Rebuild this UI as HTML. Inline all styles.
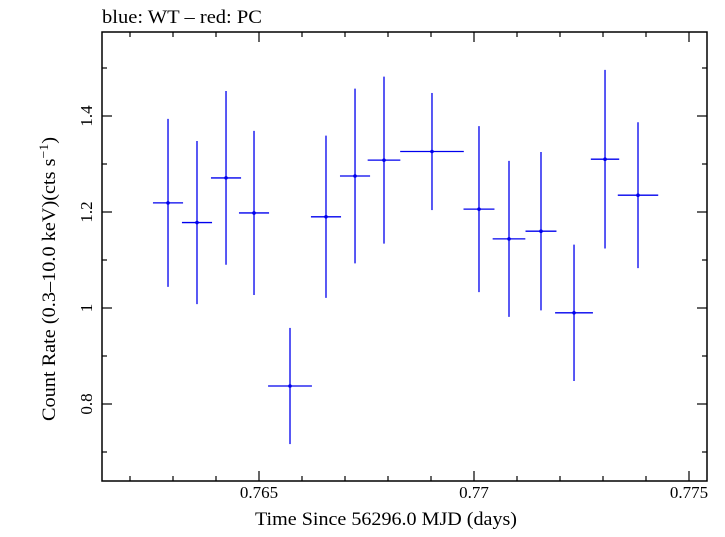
<!DOCTYPE html>
<html><head><meta charset="utf-8"><style>
body{margin:0;background:#fff}
svg text{font-family:"Liberation Serif",serif;fill:#000}
</style></head><body>
<svg id="chart" width="725" height="532" xmlns="http://www.w3.org/2000/svg">
<text x="102" y="23" font-size="19" textLength="160" lengthAdjust="spacingAndGlyphs">blue: WT – red: PC</text>
<rect x="102" y="32" width="605" height="449" fill="none" stroke="#000" stroke-width="1.5"/>
<g id="ticks"></g>
<g id="marks"></g>
<text x="386" y="525" font-size="19" text-anchor="middle" textLength="262" lengthAdjust="spacingAndGlyphs">Time Since 56296.0 MJD (days)</text>
<text transform="translate(55,279) rotate(-90)" font-size="19" text-anchor="middle" textLength="284" lengthAdjust="spacingAndGlyphs">Count Rate (0.3–10.0 keV)(cts s<tspan dy="-7" font-size="13">−1</tspan><tspan dy="7">)</tspan></text>
</svg>
<script>
const times=[0.762884,0.763558,0.764233,0.764884,0.765721,0.766558,0.767233,0.767907,0.769023,0.770116,0.770814,0.771558,0.772326,0.773047,0.773814];
const timeErr=[0.00035,0.00035,0.00035,0.00035,0.00051,0.00035,0.00035,0.00038,0.00074,0.00036,0.00038,0.00036,0.00044,0.00033,0.00047];
const rates=[1.219,1.178,1.271,1.198,0.8375,1.190,1.275,1.308,1.326,1.206,1.144,1.160,0.990,1.310,1.235];
const rateErr=[0.175,0.170,0.181,0.171,0.121,0.169,0.182,0.174,0.122,0.173,0.1625,0.165,0.142,0.186,0.152];
const xTickLabels=["0.765","0.77","0.775"];
const yTickLabels=["0.8","1","1.2","1.4"];
const NS="http://www.w3.org/2000/svg";
const L=102,R=707,T=32,B=481;
const X=v=>259+(v-0.765)*43000;
const Y=v=>308-(v-1)*480;
function el(t,a,p){const e=document.createElementNS(NS,t);for(const k in a)e.setAttribute(k,a[k]);p.appendChild(e);return e;}
const tg=document.getElementById('ticks'),mg=document.getElementById('marks');
for(let i=-6;i<=12;i++){const v=0.765+i*0.001;const x=X(v);if(x<=L+1||x>=R-1)continue;const maj=((i%5)+5)%5===0;const len=maj?10:5;
 const a=el('line',{x1:x,x2:x,y1:B,y2:B-len,stroke:'#000','stroke-width':1.2},tg);
 
 const b=el('line',{x1:x,x2:x,y1:T,y2:T+len,stroke:'#000','stroke-width':1.2},tg);
 }
xTickLabels.forEach(s=>{const t=el('text',{x:X(parseFloat(s)),y:498,'font-size':17,'text-anchor':'middle'},tg);t.textContent=s;
 });
for(let i=6;i<=15;i++){const v=i/10;const y=Y(v);if(y<=T+1||y>=B-1)continue;const maj=i%2===0;const len=maj?10:5;
 const a=el('line',{x1:L,x2:L+len,y1:y,y2:y,stroke:'#000','stroke-width':1.2},tg);
 
 const b=el('line',{x1:R,x2:R-len,y1:y,y2:y,stroke:'#000','stroke-width':1.2},tg);
 }
yTickLabels.forEach(s=>{const y=Y(parseFloat(s));const t=el('text',{x:0,y:0,'font-size':17,'text-anchor':'middle',transform:`translate(92,${y}) rotate(-90)`},tg);t.textContent=s;
 });
times.forEach((t,i)=>{const x=X(t),y=Y(rates[i]);
 const g=el('g',{},mg);
 el('line',{x1:X(t-timeErr[i]),x2:X(t+timeErr[i]),y1:y,y2:y,stroke:'#0000ee','stroke-width':1.3},g);
 el('line',{x1:x,x2:x,y1:Y(rates[i]+rateErr[i]),y2:Y(rates[i]-rateErr[i]),stroke:'#0000ee','stroke-width':1.3},g);
 el('circle',{cx:x,cy:y,r:1.8,fill:'#0000ee'},g);});
</script>
</body></html>
